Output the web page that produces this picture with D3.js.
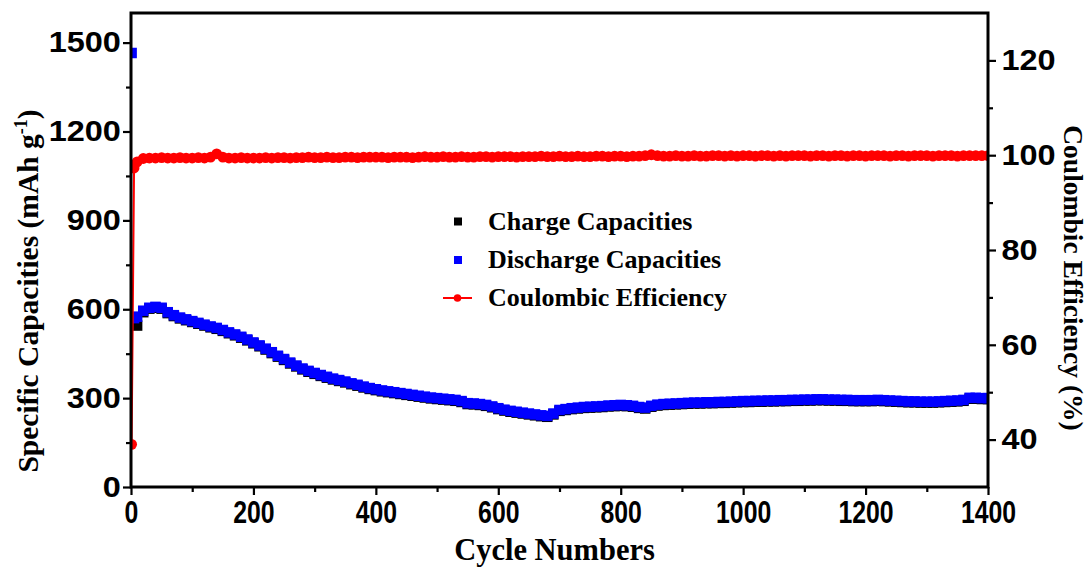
<!DOCTYPE html>
<html>
<head>
<meta charset="utf-8">
<script src="https://cdn.jsdelivr.net/npm/d3@7"></script>
<style>
  html, body { margin: 0; padding: 0; background: #fff; }
  svg { display: block; }
</style>
</head>
<body>
<svg id="chart" width="1091" height="567"></svg>
<script>
// ---- data ----
const cycles = [1, 5, 10, 20, 30, 40, 50, 60, 70, 80, 90, 100, 110, 120, 130, 140, 150, 160, 170, 180, 190, 200,
  210, 220, 230, 240, 250, 260, 270, 280, 290, 300, 310, 320, 330, 340, 350, 360, 370, 380, 390, 400,
  410, 420, 430, 440, 450, 460, 470, 480, 490, 500, 510, 520, 530, 540, 550, 560, 570, 580, 590, 600,
  610, 620, 630, 640, 650, 660, 670, 680, 690, 700, 710, 720, 730, 740, 750, 760, 770, 780, 790, 800,
  810, 820, 830, 840, 850, 860, 870, 880, 890, 900, 910, 920, 930, 940, 950, 960, 970, 980, 990, 1000,
  1010, 1020, 1030, 1040, 1050, 1060, 1070, 1080, 1090, 1100, 1110, 1120, 1130, 1140, 1150, 1160, 1170, 1180, 1190, 1200,
  1210, 1220, 1230, 1240, 1250, 1260, 1270, 1280, 1290, 1300, 1310, 1320, 1330, 1340, 1350, 1360, 1370, 1380, 1390, 1400];

const dischargeCap = [1465, 570, 575, 595, 605, 608, 605, 590, 580, 572, 566, 560, 554, 548, 542, 537, 530, 522, 515, 507, 498, 488,
  478, 467, 455, 443, 432, 420, 410, 400, 392, 385, 378, 372, 366, 361, 356, 350, 345, 339, 334, 330,
  326, 323, 320, 317, 314, 311, 308, 305, 302, 300, 298, 296, 294, 290, 283, 282, 280, 277, 272, 266,
  261, 257, 254, 251, 248, 245, 242, 240, 248, 260, 263, 266, 268, 270, 271, 272, 273, 275, 276, 277,
  276, 274, 270, 268, 274, 278, 280, 281, 282, 283, 284, 285, 285, 286, 286, 287, 287, 288, 289, 290,
  290, 291, 291, 292, 292, 293, 293, 294, 294, 295, 295, 296, 296, 295, 295, 294, 294, 293, 293, 293,
  293, 294, 293, 292, 291, 290, 289, 289, 288, 288, 288, 289, 290, 291, 292, 294, 301, 301, 300, 300];

const chargeCap = [571, 548, 545, 590, 602, 605, 602, 587, 577, 569, 563, 557, 551, 545, 539, 534, 527, 519, 512, 504, 495, 485,
  475, 464, 452, 440, 429, 417, 407, 397, 389, 382, 375, 369, 363, 358, 353, 347, 342, 336, 331, 327,
  323, 320, 317, 314, 311, 308, 305, 302, 299, 297, 295, 293, 291, 287, 280, 279, 277, 274, 269, 263,
  258, 254, 251, 248, 245, 242, 239, 237, 245, 257, 260, 263, 265, 267, 268, 269, 270, 272, 273, 274,
  273, 271, 267, 265, 271, 275, 277, 278, 279, 280, 281, 282, 282, 283, 283, 284, 284, 285, 286, 287,
  287, 288, 288, 289, 289, 290, 290, 291, 291, 292, 292, 293, 293, 292, 292, 291, 291, 290, 290, 290,
  290, 291, 290, 289, 288, 287, 286, 286, 285, 285, 285, 286, 287, 288, 289, 291, 298, 298, 297, 297];

const coulombicEff = [39.0, 97.3, 98.6, 99.3, 99.4, 99.4, 99.5, 99.4, 99.4, 99.5, 99.4, 99.4, 99.5, 99.4, 99.6, 100.3, 99.6, 99.4, 99.4, 99.5, 99.4, 99.4,
  99.4, 99.5, 99.4, 99.5, 99.5, 99.4, 99.5, 99.5, 99.6, 99.5, 99.5, 99.6, 99.5, 99.5, 99.6, 99.6, 99.5, 99.6, 99.6, 99.6,
  99.6, 99.5, 99.6, 99.6, 99.6, 99.5, 99.6, 99.7, 99.6, 99.6, 99.7, 99.6, 99.6, 99.7, 99.6, 99.6, 99.7, 99.7, 99.6, 99.7,
  99.7, 99.7, 99.6, 99.7, 99.7, 99.7, 99.8, 99.7, 99.7, 99.8, 99.7, 99.7, 99.8, 99.7, 99.7, 99.8, 99.8, 99.7, 99.8, 99.8,
  99.7, 99.8, 99.8, 99.9, 100.1, 99.9, 99.8, 99.8, 99.9, 99.8, 99.8, 99.9, 99.8, 99.8, 99.9, 99.9, 99.8, 99.9, 99.8, 99.9,
  99.9, 99.8, 99.9, 99.9, 99.8, 99.9, 99.8, 99.9, 99.9, 99.9, 99.8, 99.9, 99.9, 99.8, 99.9, 99.9, 99.8, 99.9, 99.9, 99.8,
  99.9, 99.9, 99.9, 99.8, 99.9, 99.9, 99.8, 99.9, 99.9, 99.9, 99.8, 99.9, 99.9, 99.9, 99.8, 99.9, 99.9, 99.9, 99.9, 99.9];

const xTicks = [0, 200, 400, 600, 800, 1000, 1200, 1400];
const yLeftTicks = [0, 300, 600, 900, 1200, 1500];
const yRightTicks = [40, 60, 80, 100, 120];
const legendLabels = ["Charge Capacities", "Discharge Capacities", "Coulombic Efficiency"];

// ---- layout ----
const L = 131, R = 988, T = 13, B = 487;
const svg = d3.select("#chart");

const x = d3.scaleLinear().domain([0, 1400]).range([L, R]);
const yL = d3.scaleLinear().domain([0, 1600]).range([B, T]);
const yR = d3.scaleLinear().domain([30, 130]).range([B, T]);
const fmt = d3.format("d");

const sansBold = "'Liberation Sans', Arial, sans-serif";
const serif = "'Liberation Serif', 'Times New Roman', serif";

function minorAxis(axis, g) {
  g.call(axis);
  g.select(".domain").remove();
  g.selectAll("line").attr("stroke", "#000").attr("stroke-width", 2.2);
}
function styleMajor(g, size, sx) {
  g.select(".domain").remove();
  g.selectAll("line").attr("stroke", "#000").attr("stroke-width", 2.2);
  g.selectAll("text").attr("font-family", sansBold).attr("font-weight", "bold")
    .attr("font-size", size).attr("fill", "#000").attr("transform", `scale(${sx},1)`);
}

// bottom axis
minorAxis(d3.axisBottom(x).tickValues(d3.range(100, 1400, 200)).tickSize(5).tickFormat(""),
  svg.append("g").attr("transform", `translate(0,${B})`));
const gx = svg.append("g").attr("transform", `translate(0,${B})`)
  .call(d3.axisBottom(x).tickValues(xTicks).tickFormat(fmt).tickSize(8).tickPadding(6));
styleMajor(gx, 31, 0.8);

// left axis
minorAxis(d3.axisLeft(yL).tickValues(d3.range(150, 1600, 300)).tickSize(5).tickFormat(""),
  svg.append("g").attr("transform", `translate(${L},0)`));
const gyl = svg.append("g").attr("transform", `translate(${L},0)`)
  .call(d3.axisLeft(yL).tickValues(yLeftTicks).tickFormat(fmt).tickSize(8).tickPadding(1));
styleMajor(gyl, 29, 1.12);

// right axis
minorAxis(d3.axisRight(yR).tickValues(d3.range(50, 130, 20)).tickSize(5).tickFormat(""),
  svg.append("g").attr("transform", `translate(${R},0)`));
const gyr = svg.append("g").attr("transform", `translate(${R},0)`)
  .call(d3.axisRight(yR).tickValues(yRightTicks).tickFormat(fmt).tickSize(8).tickPadding(4));
styleMajor(gyr, 29, 1.12);

// data
svg.append("clipPath").attr("id", "clip").append("rect")
  .attr("x", L).attr("y", T).attr("width", R - L).attr("height", B - T);
const plot = svg.append("g").attr("clip-path", "url(#clip)");

const sq = 10.5;
plot.append("g").selectAll("rect").data(cycles).join("rect")
  .attr("x", (c) => x(c) - sq / 2).attr("y", (c, i) => yL(chargeCap[i]) - sq / 2)
  .attr("width", sq).attr("height", sq).attr("fill", "#000");
plot.append("g").selectAll("rect").data(cycles).join("rect")
  .attr("x", (c) => x(c) - sq / 2).attr("y", (c, i) => yL(dischargeCap[i]) - sq / 2)
  .attr("width", sq).attr("height", sq).attr("fill", "#0000ff");

const ceLine = d3.line().x((c) => x(c)).y((c, i) => yR(coulombicEff[i]));
plot.append("path").datum(cycles).attr("d", ceLine)
  .attr("fill", "none").attr("stroke", "#ff0000").attr("stroke-width", 2);
plot.append("g").selectAll("circle").data(cycles).join("circle")
  .attr("cx", (c) => x(c)).attr("cy", (c, i) => yR(coulombicEff[i]))
  .attr("r", 5.4).attr("fill", "#ff0000");

// frame
svg.append("rect").attr("x", L).attr("y", T).attr("width", R - L).attr("height", B - T)
  .attr("fill", "none").attr("stroke", "#000").attr("stroke-width", 3);

// axis titles
svg.append("text").attr("transform", `translate(${(L + R) / 2 - 5},560)`)
  .attr("text-anchor", "middle").attr("font-family", serif).attr("font-weight", "bold")
  .attr("font-size", 30.5).text("Cycle Numbers");

const lt = svg.append("text").attr("transform", `translate(38,${(T + B) / 2 + 41}) rotate(-90)`)
  .attr("text-anchor", "middle").attr("font-family", serif).attr("font-weight", "bold")
  .attr("font-size", 29.5);
lt.append("tspan").text("Specific Capacities (mAh g");
lt.append("tspan").attr("font-size", 18).attr("dy", -11).text("-1");
lt.append("tspan").attr("dy", 11).text(")");

svg.append("text").attr("transform", `translate(1064,${(T + B) / 2 + 28}) rotate(90)`)
  .attr("text-anchor", "middle").attr("font-family", serif).attr("font-weight", "bold")
  .attr("font-size", 27.5).text("Coulombic Efficiency (%)");

// legend
const lg = svg.append("g");
const rowsY = [221.5, 260, 298];
lg.append("rect").attr("x", 454).attr("y", rowsY[0] - 4).attr("width", 8).attr("height", 8).attr("fill", "#000");
lg.append("rect").attr("x", 454).attr("y", rowsY[1] - 4).attr("width", 8).attr("height", 8).attr("fill", "#0000ff");
lg.append("line").attr("x1", 443).attr("x2", 472).attr("y1", rowsY[2]).attr("y2", rowsY[2])
  .attr("stroke", "#ff0000").attr("stroke-width", 2);
lg.append("circle").attr("cx", 457.5).attr("cy", rowsY[2]).attr("r", 3.8).attr("fill", "#ff0000");
lg.selectAll("text").data(legendLabels).join("text")
  .attr("x", 488).attr("y", (d, i) => rowsY[i] + 8)
  .attr("font-family", serif).attr("font-weight", "bold").attr("font-size", 26).text((d) => d);
</script>
</body>
</html>
